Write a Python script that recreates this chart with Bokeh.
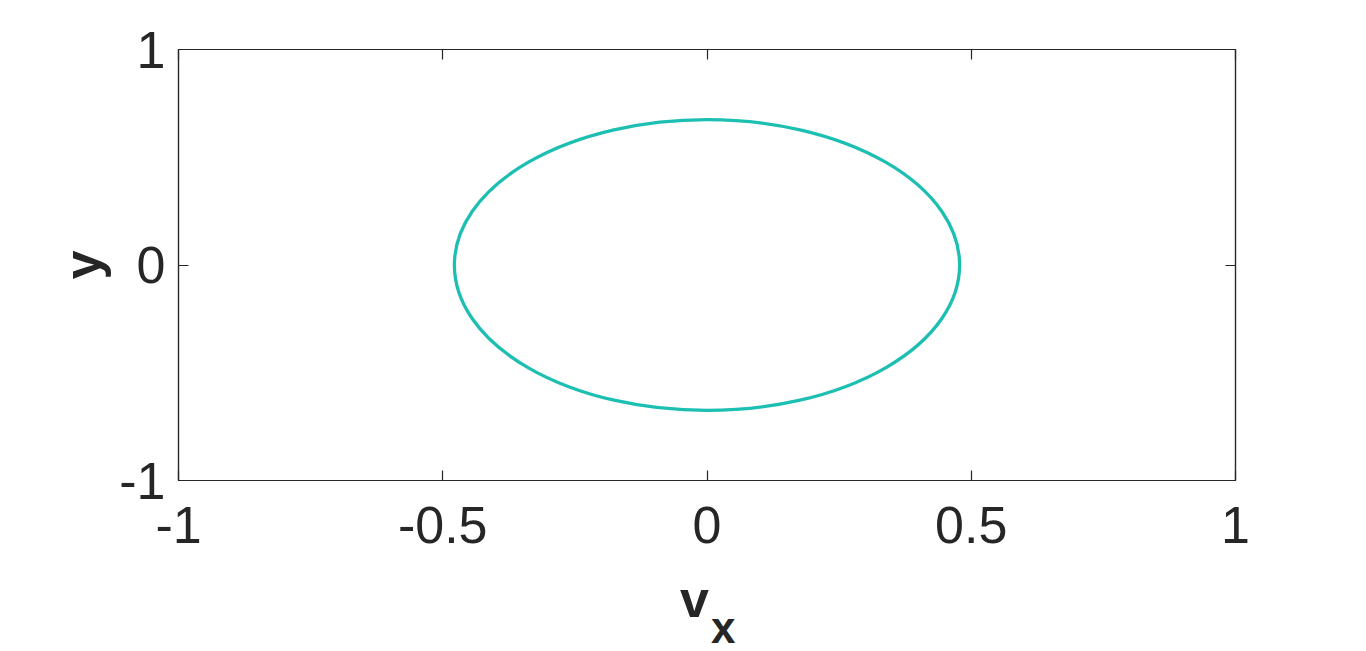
from bokeh.plotting import figure
from bokeh.models import Range1d, FixedTicker, LinearAxis, Div
from bokeh.layouts import column
from bokeh.embed import file_html
from bokeh.resources import INLINE

# data
x_ticks = [-1, -0.5, 0, 0.5, 1]
x_tick_labels = ["-1", "-0.5", "0", "0.5", "1"]
y_ticks = [-1, 0, 1]
y_tick_labels = ["-1", "0", "1"]
ellipse_cx = [0.0]
ellipse_cy = [0.0]
ellipse_w = [0.956]
ellipse_h = [1.35]
x_label_main = "v"
x_label_sub = "x"
y_label = "y"

TXT = "#262626"
FONT = "Liberation Sans"

p = figure(output_backend="svg", toolbar_location=None,
           frame_width=1057, frame_height=431,
           min_border_left=178, min_border_top=49,
           min_border_right=115, min_border_bottom=80,
           x_range=Range1d(-1, 1), y_range=Range1d(-1, 1),
           background_fill_color="white", border_fill_color="white")
p.xgrid.visible = False
p.ygrid.visible = False
p.outline_line_color = TXT
p.outline_line_width = 1.2

p.ellipse(x=ellipse_cx, y=ellipse_cy, width=ellipse_w, height=ellipse_h,
          fill_color=None, line_color="#1CBFB2", line_width=3.3)

def style(ax, ticks, labels, show):
    ax.ticker = FixedTicker(ticks=ticks)
    ax.major_label_overrides = {t: l for t, l in zip(ticks, labels)}
    ax.major_tick_in = 10
    ax.major_tick_out = 0
    ax.minor_tick_line_color = None
    ax.axis_line_color = TXT
    ax.axis_line_width = 1.2
    ax.major_tick_line_color = TXT
    ax.major_tick_line_width = 1.2
    ax.major_label_text_font = FONT
    ax.major_label_text_color = TXT
    if show:
        ax.major_label_text_font_size = "52px"
    else:
        ax.major_label_text_font_size = "0px"
        ax.major_label_text_color = None
        ax.major_label_standoff = 0

style(p.xaxis[0], x_ticks, x_tick_labels, True)
style(p.yaxis[0], y_ticks, y_tick_labels, True)
p.xaxis[0].major_label_standoff = 26
p.yaxis[0].major_label_standoff = 13
p.yaxis[0].axis_label = y_label
p.yaxis[0].axis_label_text_font = FONT
p.yaxis[0].axis_label_text_font_size = "52px"
p.yaxis[0].axis_label_text_font_style = "bold"
p.yaxis[0].axis_label_text_color = TXT
p.yaxis[0].axis_label_standoff = 5

top = LinearAxis()
style(top, x_ticks, x_tick_labels, False)
p.add_layout(top, "above")
right = LinearAxis()
style(right, y_ticks, y_tick_labels, False)
p.add_layout(right, "right")

xlab = Div(
    text=(f'<span style="font-family:\'{FONT}\';font-weight:bold;font-size:52px;'
          f'line-height:52px;color:{TXT};white-space:nowrap">{x_label_main}'
          f'<span style="font-size:44px;line-height:44px;vertical-align:-26px;'
          f'margin-left:2px">{x_label_sub}</span></span>'),
    width=1350, height=91,
    styles={"padding-left": "680px", "padding-top": "13px", "margin": "0"})

layout = column(p, xlab, spacing=0)
open("out.html", "w").write(file_html(layout, INLINE))
